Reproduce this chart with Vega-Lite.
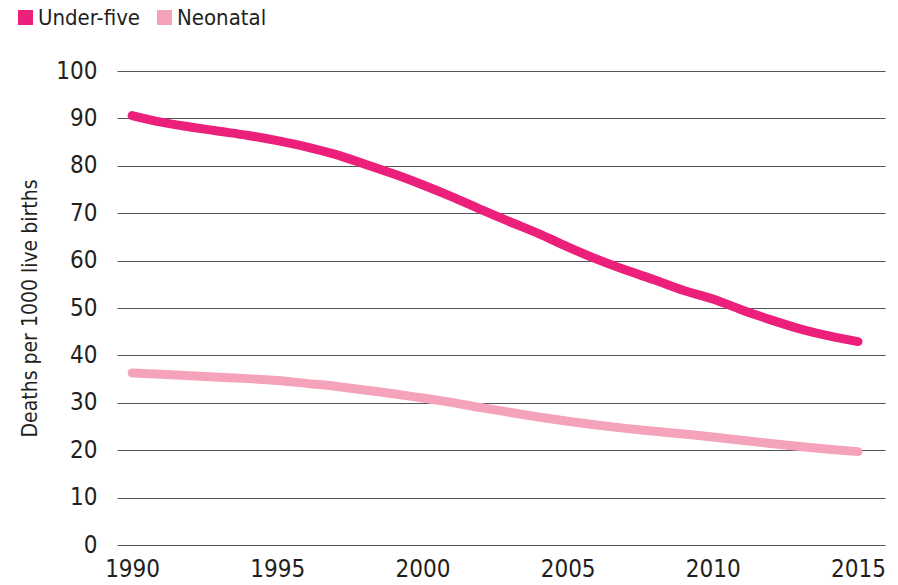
{
  "$schema": "https://vega.github.io/schema/vega-lite/v6.json",
  "width": 768,
  "height": 474,
  "autosize": {"type": "none"},
  "padding": {"left": 117, "top": 71, "right": 13, "bottom": 40},
  "background": "white",
  "config": {
    "view": {"stroke": null},
    "font": "'Liberation Sans Narrow', 'Arial Narrow', 'DejaVu Sans Condensed', sans-serif",
    "axis": {"labelFont": "'Liberation Sans Narrow', 'Arial Narrow', 'DejaVu Sans Condensed', sans-serif", "titleFont": "'Liberation Sans Narrow', 'Arial Narrow', 'DejaVu Sans Condensed', sans-serif", "labelColor": "#231f20", "titleColor": "#231f20"},
    "legend": {"labelFont": "'Liberation Sans Narrow', 'Arial Narrow', 'DejaVu Sans Condensed', sans-serif", "labelColor": "#231f20"}
  },
  "data": {
    "values": [
      {"year": 1990, "series": "Under-five", "rate": 90.6},
      {"year": 1991, "series": "Under-five", "rate": 89.2},
      {"year": 1992, "series": "Under-five", "rate": 88.2},
      {"year": 1993, "series": "Under-five", "rate": 87.3},
      {"year": 1994, "series": "Under-five", "rate": 86.4},
      {"year": 1995, "series": "Under-five", "rate": 85.3},
      {"year": 1996, "series": "Under-five", "rate": 84.0},
      {"year": 1997, "series": "Under-five", "rate": 82.4},
      {"year": 1998, "series": "Under-five", "rate": 80.4},
      {"year": 1999, "series": "Under-five", "rate": 78.3},
      {"year": 2000, "series": "Under-five", "rate": 76.0},
      {"year": 2001, "series": "Under-five", "rate": 73.5},
      {"year": 2002, "series": "Under-five", "rate": 70.8},
      {"year": 2003, "series": "Under-five", "rate": 68.2},
      {"year": 2004, "series": "Under-five", "rate": 65.7},
      {"year": 2005, "series": "Under-five", "rate": 62.9},
      {"year": 2006, "series": "Under-five", "rate": 60.3},
      {"year": 2007, "series": "Under-five", "rate": 58.0},
      {"year": 2008, "series": "Under-five", "rate": 55.9},
      {"year": 2009, "series": "Under-five", "rate": 53.7},
      {"year": 2010, "series": "Under-five", "rate": 51.9},
      {"year": 2011, "series": "Under-five", "rate": 49.6},
      {"year": 2012, "series": "Under-five", "rate": 47.5},
      {"year": 2013, "series": "Under-five", "rate": 45.6},
      {"year": 2014, "series": "Under-five", "rate": 44.1},
      {"year": 2015, "series": "Under-five", "rate": 42.9},
      {"year": 1990, "series": "Neonatal", "rate": 36.3},
      {"year": 1991, "series": "Neonatal", "rate": 36.0},
      {"year": 1992, "series": "Neonatal", "rate": 35.7},
      {"year": 1993, "series": "Neonatal", "rate": 35.4},
      {"year": 1994, "series": "Neonatal", "rate": 35.1},
      {"year": 1995, "series": "Neonatal", "rate": 34.7},
      {"year": 1996, "series": "Neonatal", "rate": 34.1},
      {"year": 1997, "series": "Neonatal", "rate": 33.5},
      {"year": 1998, "series": "Neonatal", "rate": 32.7},
      {"year": 1999, "series": "Neonatal", "rate": 31.9},
      {"year": 2000, "series": "Neonatal", "rate": 31.0},
      {"year": 2001, "series": "Neonatal", "rate": 30.1},
      {"year": 2002, "series": "Neonatal", "rate": 29.0},
      {"year": 2003, "series": "Neonatal", "rate": 28.0},
      {"year": 2004, "series": "Neonatal", "rate": 27.0},
      {"year": 2005, "series": "Neonatal", "rate": 26.1},
      {"year": 2006, "series": "Neonatal", "rate": 25.3},
      {"year": 2007, "series": "Neonatal", "rate": 24.6},
      {"year": 2008, "series": "Neonatal", "rate": 24.0},
      {"year": 2009, "series": "Neonatal", "rate": 23.4},
      {"year": 2010, "series": "Neonatal", "rate": 22.8},
      {"year": 2011, "series": "Neonatal", "rate": 22.1},
      {"year": 2012, "series": "Neonatal", "rate": 21.4},
      {"year": 2013, "series": "Neonatal", "rate": 20.8},
      {"year": 2014, "series": "Neonatal", "rate": 20.2},
      {"year": 2015, "series": "Neonatal", "rate": 19.7}
    ]
  },
  "mark": {"type": "line", "strokeWidth": 9, "strokeCap": "round", "strokeJoin": "round", "interpolate": "monotone"},
  "encoding": {
    "x": {
      "field": "year", "type": "quantitative",
      "scale": {"domain": [1989.48, 2015.93], "nice": false, "zero": false},
      "axis": {"values": [1990, 1995, 2000, 2005, 2010, 2015], "format": "d", "title": null, "grid": false, "domain": false, "ticks": false, "labelFontSize": 24, "labelPadding": 12, "labelFlush": false}
    },
    "y": {
      "field": "rate", "type": "quantitative",
      "scale": {"domain": [0, 100], "nice": false},
      "axis": {"values": [0, 10, 20, 30, 40, 50, 60, 70, 80, 90, 100], "title": "Deaths per 1000 live births", "titleFontSize": 21, "titleFontWeight": "normal", "titleX": -81, "titleBaseline": "alphabetic", "grid": true, "gridColor": "#555555", "gridWidth": 1.2, "domain": false, "ticks": false, "labelFontSize": 24, "labelPadding": 20}
    },
    "color": {
      "field": "series", "type": "nominal",
      "scale": {"domain": ["Under-five", "Neonatal"], "range": ["#ec1f7b", "#f5a3bb"]},
      "legend": {"title": null, "orient": "none", "legendX": -106.5, "legendY": -68.5, "direction": "horizontal", "symbolType": "stroke", "symbolSize": 225, "symbolStrokeWidth": 15, "labelFontSize": 22, "labelOffset": -2.5, "columnPadding": -14}
    }
  }
}
